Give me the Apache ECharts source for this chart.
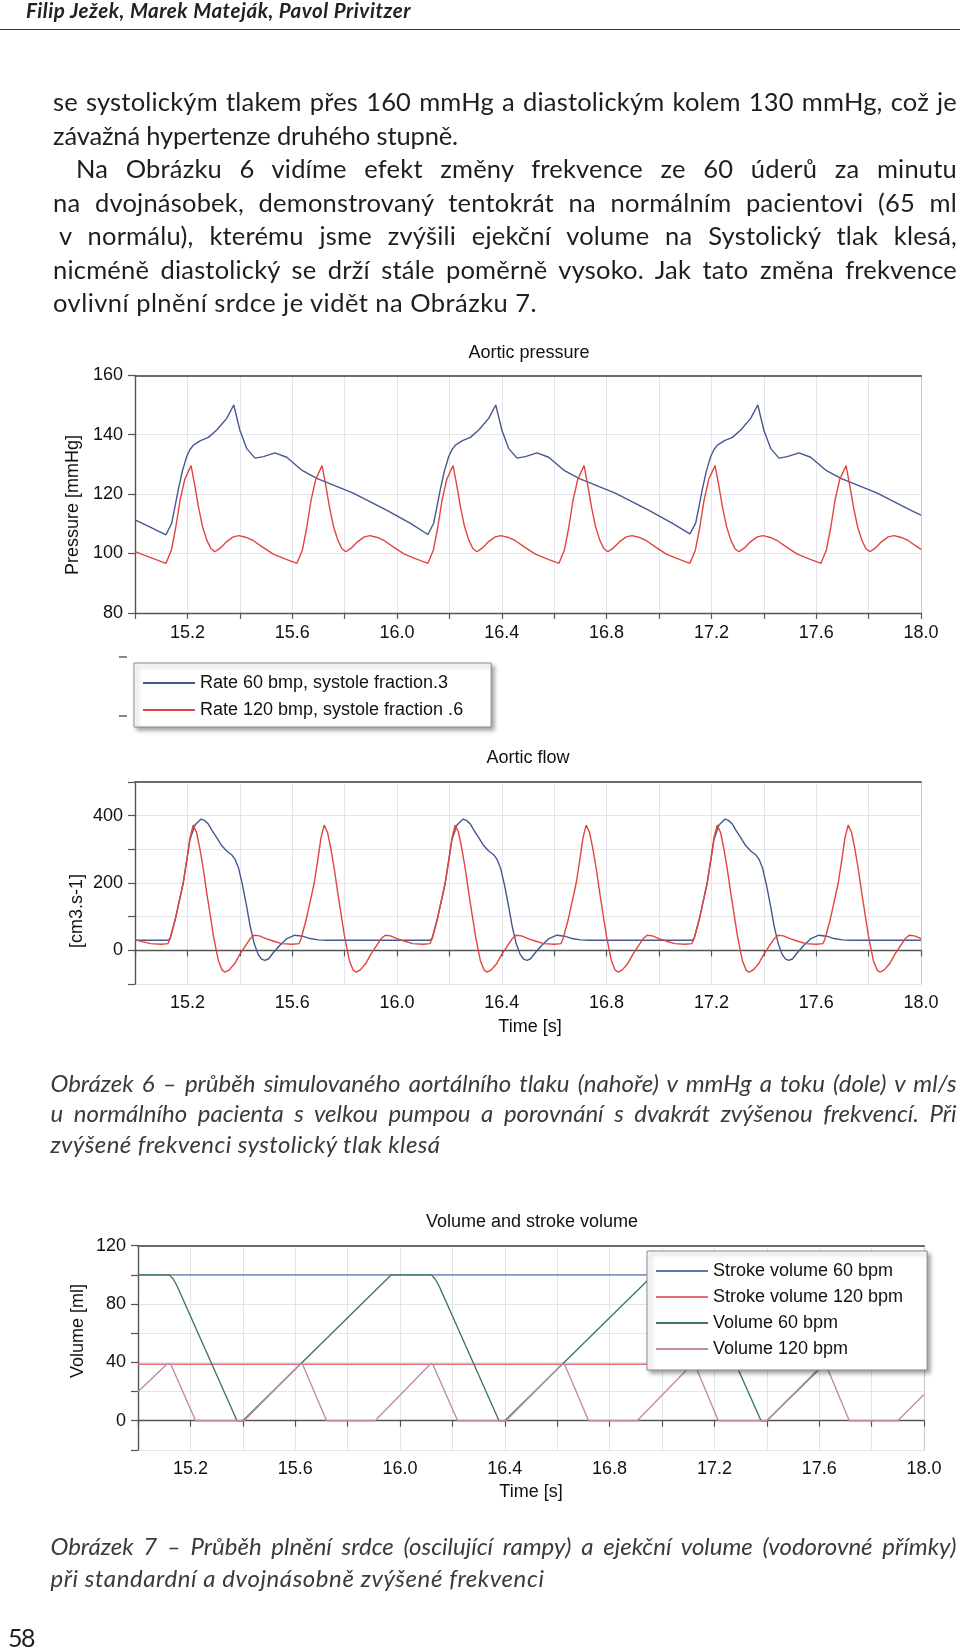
<!DOCTYPE html>
<html><head><meta charset="utf-8">
<script src="https://cdn.jsdelivr.net/npm/echarts@6/dist/echarts.min.js"></script>
<style>
html,body{margin:0;padding:0;background:#fff;}
body{width:960px;height:1651px;position:relative;overflow:hidden;}
#chart{position:absolute;left:0;top:0;width:960px;height:1651px;}
.ln{position:absolute;white-space:nowrap;z-index:2;font-family:Lato,'Noto Sans',sans-serif;color:#1e1e1e;}
#rule{position:absolute;left:0;top:28.5px;width:960px;height:1.6px;background:#3a3a3a;z-index:2;}
</style></head><body>
<div id="chart"></div><div id="rule"></div>
<script>
// ---------- DATA ----------
const xTicksMin = 15.0, xTicksMax = 18.0, xStep = 0.2;

const pressure60 = [
[15.00,111.3],[15.06,108.8],[15.118,106.3],
[15.14,110.2],[15.152,115.5],[15.165,121.4],[15.18,127.5],[15.197,132.6],[15.21,135.0],[15.223,136.5],[15.25,138.0],[15.28,139.1],[15.312,141.6],[15.35,145.5],[15.377,150.0],[15.40,141.6],[15.426,135.4],[15.458,132.1],[15.49,132.6],[15.534,133.9],[15.579,132.4],[15.636,128.1],[15.694,125.3],[15.833,120.3],[15.96,114.6],[16.05,110.2],[16.118,106.4],
[16.14,110.2],[16.152,115.5],[16.165,121.4],[16.18,127.5],[16.197,132.6],[16.21,135.0],[16.223,136.5],[16.25,138.0],[16.28,139.1],[16.312,141.6],[16.35,145.5],[16.377,150.0],[16.40,141.6],[16.426,135.4],[16.458,132.1],[16.49,132.6],[16.534,133.9],[16.579,132.4],[16.636,128.1],[16.694,125.3],[16.833,120.3],[16.96,114.6],[17.05,110.2],[17.118,106.6],
[17.14,110.2],[17.152,115.5],[17.165,121.4],[17.18,127.5],[17.197,132.6],[17.21,135.0],[17.223,136.5],[17.25,138.0],[17.28,139.1],[17.312,141.6],[17.35,145.5],[17.377,150.0],[17.40,141.6],[17.426,135.4],[17.458,132.1],[17.49,132.6],[17.534,133.9],[17.579,132.4],[17.636,128.1],[17.694,125.3],[17.833,120.3],[17.96,114.6],[18.0,112.9]
];

const pressure120 = [
[15.00,100.6],[15.06,98.6],
[15.118,96.7],[15.139,101.2],[15.155,108.5],[15.172,118.0],[15.19,125.0],[15.214,129.6],[15.228,123.0],[15.242,115.8],[15.258,109.0],[15.274,104.5],[15.29,101.6],[15.305,100.6],[15.325,101.8],[15.35,104.0],[15.375,105.6],[15.397,106.0],[15.425,105.4],[15.452,104.3],[15.49,102.0],[15.528,99.8],[15.575,98.1],
[15.618,96.7],[15.639,101.2],[15.655,108.5],[15.672,118.0],[15.69,125.0],[15.714,129.6],[15.728,123.0],[15.742,115.8],[15.758,109.0],[15.774,104.5],[15.79,101.6],[15.805,100.6],[15.825,101.8],[15.85,104.0],[15.875,105.6],[15.897,106.0],[15.925,105.4],[15.952,104.3],[15.99,102.0],[16.028,99.8],[16.075,98.1],
[16.118,96.7],[16.139,101.2],[16.155,108.5],[16.172,118.0],[16.19,125.0],[16.214,129.6],[16.228,123.0],[16.242,115.8],[16.258,109.0],[16.274,104.5],[16.29,101.6],[16.305,100.6],[16.325,101.8],[16.35,104.0],[16.375,105.6],[16.397,106.0],[16.425,105.4],[16.452,104.3],[16.49,102.0],[16.528,99.8],[16.575,98.1],
[16.618,96.7],[16.639,101.2],[16.655,108.5],[16.672,118.0],[16.69,125.0],[16.714,129.6],[16.728,123.0],[16.742,115.8],[16.758,109.0],[16.774,104.5],[16.79,101.6],[16.805,100.6],[16.825,101.8],[16.85,104.0],[16.875,105.6],[16.897,106.0],[16.925,105.4],[16.952,104.3],[16.99,102.0],[17.028,99.8],[17.075,98.1],
[17.118,96.7],[17.139,101.2],[17.155,108.5],[17.172,118.0],[17.19,125.0],[17.214,129.6],[17.228,123.0],[17.242,115.8],[17.258,109.0],[17.274,104.5],[17.29,101.6],[17.305,100.6],[17.325,101.8],[17.35,104.0],[17.375,105.6],[17.397,106.0],[17.425,105.4],[17.452,104.3],[17.49,102.0],[17.528,99.8],[17.575,98.1],
[17.618,96.7],[17.639,101.2],[17.655,108.5],[17.672,118.0],[17.69,125.0],[17.714,129.6],[17.728,123.0],[17.742,115.8],[17.758,109.0],[17.774,104.5],[17.79,101.6],[17.805,100.6],[17.825,101.8],[17.85,104.0],[17.875,105.6],[17.897,106.0],[17.925,105.4],[17.952,104.3],[17.99,102.0],[18.0,101.4]
];

const flow60 = [
[15.00,30],[15.126,30],
[15.134,35],[15.153,90],[15.17,150],[15.184,200],[15.197,265],[15.21,330],[15.229,372],[15.252,390],[15.265,386],[15.28,375],[15.295,355],[15.312,335],[15.33,312],[15.35,295],[15.37,283],[15.382,270],[15.395,245],[15.41,195],[15.425,135],[15.44,70],[15.455,20],[15.47,-12],[15.483,-26],[15.496,-30],[15.51,-25],[15.53,-5],[15.553,15],[15.58,35],[15.61,45],[15.64,42],[15.668,35],[15.70,31],[15.73,30],[16.126,30],
[16.134,35],[16.153,90],[16.17,150],[16.184,200],[16.197,265],[16.21,330],[16.229,372],[16.252,390],[16.265,386],[16.28,375],[16.295,355],[16.312,335],[16.33,312],[16.35,295],[16.37,283],[16.382,270],[16.395,245],[16.41,195],[16.425,135],[16.44,70],[16.455,20],[16.47,-12],[16.483,-26],[16.496,-30],[16.51,-25],[16.53,-5],[16.553,15],[16.58,35],[16.61,45],[16.64,42],[16.668,35],[16.70,31],[16.73,30],[17.126,30],
[17.134,35],[17.153,90],[17.17,150],[17.184,200],[17.197,265],[17.21,330],[17.229,372],[17.252,390],[17.265,386],[17.28,375],[17.295,355],[17.312,335],[17.33,312],[17.35,295],[17.37,283],[17.382,270],[17.395,245],[17.41,195],[17.425,135],[17.44,70],[17.455,20],[17.47,-12],[17.483,-26],[17.496,-30],[17.51,-25],[17.53,-5],[17.553,15],[17.58,35],[17.61,45],[17.64,42],[17.668,35],[17.70,31],[17.73,30],[18.0,30]
];

const flow120 = [
[15.00,32],[15.03,25],[15.06,20],[15.10,18],[15.126,20],
[15.134,35],[15.153,90],[15.17,150],[15.184,200],[15.197,265],[15.21,335],[15.222,372],[15.235,350],[15.248,300],[15.261,240],[15.274,170],[15.288,100],[15.30,40],[15.318,-30],[15.332,-58],[15.344,-65],[15.36,-58],[15.38,-40],[15.40,-12],[15.42,12],[15.44,35],[15.455,45],[15.475,43],[15.50,35],[15.53,27],[15.56,20],[15.60,18],[15.626,20],
[15.634,35],[15.653,90],[15.67,150],[15.684,200],[15.697,265],[15.71,335],[15.722,372],[15.735,350],[15.748,300],[15.761,240],[15.774,170],[15.788,100],[15.80,40],[15.818,-30],[15.832,-58],[15.844,-65],[15.86,-58],[15.88,-40],[15.90,-12],[15.92,12],[15.94,35],[15.955,45],[15.975,43],[16.00,35],[16.03,27],[16.06,20],[16.10,18],[16.126,20],
[16.134,35],[16.153,90],[16.17,150],[16.184,200],[16.197,265],[16.21,335],[16.222,372],[16.235,350],[16.248,300],[16.261,240],[16.274,170],[16.288,100],[16.30,40],[16.318,-30],[16.332,-58],[16.344,-65],[16.36,-58],[16.38,-40],[16.40,-12],[16.42,12],[16.44,35],[16.455,45],[16.475,43],[16.50,35],[16.53,27],[16.56,20],[16.60,18],[16.626,20],
[16.634,35],[16.653,90],[16.67,150],[16.684,200],[16.697,265],[16.71,335],[16.722,372],[16.735,350],[16.748,300],[16.761,240],[16.774,170],[16.788,100],[16.80,40],[16.818,-30],[16.832,-58],[16.844,-65],[16.86,-58],[16.88,-40],[16.90,-12],[16.92,12],[16.94,35],[16.955,45],[16.975,43],[17.00,35],[17.03,27],[17.06,20],[17.10,18],[17.126,20],
[17.134,35],[17.153,90],[17.17,150],[17.184,200],[17.197,265],[17.21,335],[17.222,372],[17.235,350],[17.248,300],[17.261,240],[17.274,170],[17.288,100],[17.30,40],[17.318,-30],[17.332,-58],[17.344,-65],[17.36,-58],[17.38,-40],[17.40,-12],[17.42,12],[17.44,35],[17.455,45],[17.475,43],[17.50,35],[17.53,27],[17.56,20],[17.60,18],[17.626,20],
[17.634,35],[17.653,90],[17.67,150],[17.684,200],[17.697,265],[17.71,335],[17.722,372],[17.735,350],[17.748,300],[17.761,240],[17.774,170],[17.788,100],[17.80,40],[17.818,-30],[17.832,-58],[17.844,-65],[17.86,-58],[17.88,-40],[17.90,-12],[17.92,12],[17.94,35],[17.955,45],[17.975,43],[18.0,35]
];

const stroke60 = [[15.0,100],[18.0,100]];
const stroke120 = [[15.0,38.7],[18.0,38.7]];
const volume60 = [[15.0,100],[15.12,100],[15.135,97],[15.15,92],[15.378,0],[15.40,0],[15.967,100],[16.12,100],[16.135,97],[16.15,92],[16.378,0],[16.40,0],[16.967,100],[17.12,100],[17.135,97],[17.15,92],[17.378,0],[17.40,0],[17.967,100],[18.0,100]];
const volume120 = [[15.0,19.9],[15.11,38.7],[15.125,38.7],[15.22,0],[15.405,0],[15.618,38.7],[15.628,38.7],[15.72,0],[15.905,0],[16.115,38.7],[16.125,38.7],[16.22,0],[16.405,0],[16.618,38.7],[16.628,38.7],[16.72,0],[16.905,0],[17.115,38.7],[17.125,38.7],[17.215,0],[17.40,0],[17.615,38.7],[17.625,38.7],[17.715,0],[17.90,0],[18.0,18]];

const names1 = ['Rate 60 bmp, systole fraction.3','Rate 120 bmp, systole fraction .6'];
const names3 = ['Stroke volume 60 bpm','Stroke volume 120 bpm','Volume 60 bpm','Volume 120 bpm'];
const titles = ['Aortic pressure','Aortic flow','Volume and stroke volume'];
const yNames = ['Pressure [mmHg]','[cm3.s-1]','Volume [ml]'];
const xName = 'Time [s]';

// ---------- TEXT ----------
const headerText = 'Filip Ježek, Marek Mateják, Pavol Privitzer';
const bodyLines = [
 'se systolickým tlakem přes 160 mmHg a diastolickým kolem 130 mmHg, což je',
 'závažná hypertenze druhého stupně.',
 'Na Obrázku 6 vidíme efekt změny frekvence ze 60 úderů za minutu',
 'na dvojnásobek, demonstrovaný tentokrát na normálním pacientovi (65 ml',
 'v normálu), kterému jsme zvýšili ejekční volume na Systolický tlak klesá,',
 'nicméně diastolický se drží stále poměrně vysoko. Jak tato změna frekvence',
 'ovlivní plnění srdce je vidět na Obrázku 7.'
];
const caption6Lines = [
 'Obrázek 6 – průběh simulovaného aortálního tlaku (nahoře) v mmHg a toku (dole) v ml/s',
 'u normálního pacienta s velkou pumpou a porovnání s dvakrát zvýšenou frekvencí. Při',
 'zvýšené frekvenci systolický tlak klesá'
];
const caption7Lines = [
 'Obrázek 7 – Průběh plnění srdce (oscilující rampy) a ejekční volume (vodorovné přímky)',
 'při standardní a dvojnásobně zvýšené frekvenci'
];
const pageNumber = '58';

function addLine(text, x, yc, fs, opt){
  opt = opt || {};
  const d = document.createElement('div'); d.className = 'ln';
  const lh = fs*1.3;
  d.style.left = x+'px'; d.style.top = (yc-lh/2)+'px';
  d.style.fontSize = fs+'px'; d.style.lineHeight = lh+'px';
  if (opt.italic) d.style.fontStyle = 'italic';
  if (opt.bold) d.style.fontWeight = 'bold';
  if (opt.color) d.style.color = opt.color;
  const s = document.createElement('span'); s.textContent = text; d.appendChild(s);
  if (opt.ls) s.style.letterSpacing = opt.ls+'px';
  document.body.appendChild(d);
  if (opt.w){
    const w0 = s.getBoundingClientRect().width; const extra = opt.w - w0;
    if (opt.justify){ const n = (text.match(/ /g)||[]).length; if (n) s.style.wordSpacing = (extra/n)+'px'; }
    else { s.style.letterSpacing = ((opt.ls||0) + extra/text.length)+'px'; }
  }
}
addLine(headerText, 26, 10.5, 20.5, {bold:true, italic:true, w:385, color:'#222'});
const bodyY = [102,135.5,169,202.5,236,269.5,303];
const bodySpec = [
 {x:53,w:904,j:true},{x:53,w:405,j:false},{x:76,w:881,j:true},{x:53,w:904,j:true},
 {x:59,w:898,j:true},{x:53,w:904,j:true},{x:53,w:484,j:false}];
bodyLines.forEach((t,i)=>addLine(t, bodySpec[i].x, bodyY[i], 25.5, {w:bodySpec[i].w, justify:bodySpec[i].j, ls:0.2}));
const c6Y = [1082.5,1113,1143.6];
const c6Spec = [{w:906,j:true},{w:906,j:true},{w:390,j:false}];
caption6Lines.forEach((t,i)=>addLine(t, 50.5, c6Y[i], 24, {italic:true, color:'#3a3a3a', w:c6Spec[i].w, justify:c6Spec[i].j}));
const c7Y = [1546,1577.4];
const c7Spec = [{w:906,j:true},{w:494,j:false}];
caption7Lines.forEach((t,i)=>addLine(t, 50.5, c7Y[i], 24, {italic:true, color:'#3a3a3a', w:c7Spec[i].w, justify:c7Spec[i].j}));
addLine(pageNumber, 8, 1637, 25, {w:26});

// ---------- CHART ----------
const FONT = '"Liberation Sans", Arial, Helvetica, sans-serif';
const BLUE = '#45588f', RED = '#e2443f';
const C3 = ['#5b79ad','#e36e6e','#3d7b5b','#c48aa8'];
const GRID_C = '#e4e4ec', AXIS_C = '#555';

function xLabel(v){ const i = Math.round((v-xTicksMin)/xStep); return i%2===1 ? v.toFixed(1) : ''; }
function xBottom(gi, margin){
  return {type:'value', gridIndex:gi, min:xTicksMin, max:xTicksMax, interval:xStep, position:'bottom',
    axisLine:{show:true, lineStyle:{color:AXIS_C, width:1.4}},
    axisTick:{show:true, inside:false, length:6, lineStyle:{color:AXIS_C, width:1.2}},
    axisLabel:{formatter:xLabel, fontSize:18, color:'#111', fontFamily:FONT, margin:margin, showMinLabel:true, showMaxLabel:true, hideOverlap:false},
    splitLine:{show:true, lineStyle:{color:GRID_C, width:1}}};
}
function xTop(gi){
  return {type:'value', gridIndex:gi, min:xTicksMin, max:xTicksMax, position:'top',
    axisLine:{show:true, onZero:false, lineStyle:{color:'#6a6a6a', width:2}}, axisTick:{show:false}, axisLabel:{show:false}, splitLine:{show:false}};
}
function yLeft(gi, min, max, step, shown){
  return {type:'value', gridIndex:gi, min:min, max:max, interval:step, position:'left',
    axisLine:{show:true, onZero:false, lineStyle:{color:AXIS_C, width:1.4}},
    axisTick:{show:true, inside:false, length:7, lineStyle:{color:AXIS_C, width:1.2}},
    axisLabel:{fontSize:18, color:'#111', fontFamily:FONT, margin:12, showMinLabel:true, showMaxLabel:true,
      formatter:function(v){ return shown.indexOf(Math.round(v))>=0 ? String(Math.round(v)) : ''; }},
    splitLine:{show:true, lineStyle:{color:GRID_C, width:1}}};
}
function yRight(gi, min, max){
  return {type:'value', gridIndex:gi, min:min, max:max, position:'right',
    axisLine:{show:true, onZero:false, lineStyle:{color:'#c8c8c8', width:1}}, axisTick:{show:false}, axisLabel:{show:false}, splitLine:{show:false}};
}
function line(name, xi, yi, data, color, w){
  return {name:name, type:'line', xAxisIndex:xi, yAxisIndex:yi, data:data, symbol:'none', showSymbol:false,
    color:color, itemStyle:{color:color}, lineStyle:{color:color, width:w||1.4}, animation:false, silent:true, z:3};
}
function gtext(txt, x, y, rot){
  return {type:'text', x:x, y:y, rotation:rot||0, z:10,
    style:{text:txt, font:'18px '+FONT, fill:'#111', textAlign:'center', textVerticalAlign:'middle'}};
}
const legendBase = {orient:'vertical', icon:'rect', itemWidth:52, itemHeight:2, backgroundColor:'#fff',
  borderColor:'#8a8a8a', borderWidth:1, shadowBlur:4, shadowColor:'rgba(0,0,0,0.35)', shadowOffsetX:3, shadowOffsetY:3,
  textStyle:{fontSize:18, color:'#111', fontFamily:FONT, lineHeight:18}, selectedMode:false, z:20};

const option = {
  animation:false,
  backgroundColor:'#fff',
  grid:[
    {left:135, top:375.3, width:786, height:237.6, containLabel:false},
    {left:135, top:782, width:786, height:202, containLabel:false},
    {left:138, top:1245.7, width:786, height:204.2, containLabel:false}
  ],
  xAxis:[xBottom(0,11), xTop(0), xBottom(1,10), xTop(1), xBottom(2,10), xTop(2)],
  yAxis:[yLeft(0,80,160,20,[80,100,120,140,160]), yRight(0,80,160),
         yLeft(1,-100,500,100,[0,200,400]), yRight(1,-100,500),
         yLeft(2,-20,120,20,[0,40,80,120]), yRight(2,-20,120)],
  legend:[
    Object.assign({}, legendBase, {data:names1, left:134, top:663, padding:[11,28,8,9], itemGap:9}),
    Object.assign({}, legendBase, {data:names3, left:647, top:1251, padding:[11,24,12,9], itemGap:8})
  ],
  series:[
    line(names1[0],0,0,pressure60,BLUE), line(names1[1],0,0,pressure120,RED),
    line(names1[0],2,2,flow60,BLUE), line(names1[1],2,2,flow120,RED),
    line(names3[0],4,4,stroke60,C3[0]), line(names3[1],4,4,stroke120,C3[1]),
    line(names3[2],4,4,volume60,C3[2]), line(names3[3],4,4,volume120,C3[3])
  ],
  graphic:[
    gtext(titles[0],529,353), gtext(titles[1],528,758), gtext(titles[2],532,1222),
    gtext(yNames[0],73,505,Math.PI/2), gtext(yNames[1],77,911,Math.PI/2), gtext(yNames[2],78,1331,Math.PI/2),
    gtext(xName,530,1027), gtext(xName,531,1492),
    {type:'line', shape:{x1:119,y1:657,x2:127,y2:657}, style:{stroke:'#444', lineWidth:1.3}},
    {type:'line', shape:{x1:119,y1:716,x2:127,y2:716}, style:{stroke:'#444', lineWidth:1.3}}
  ]
};
const chart = echarts.init(document.getElementById('chart'), null, {renderer:'canvas'});
chart.setOption(option);
</script></body></html>
